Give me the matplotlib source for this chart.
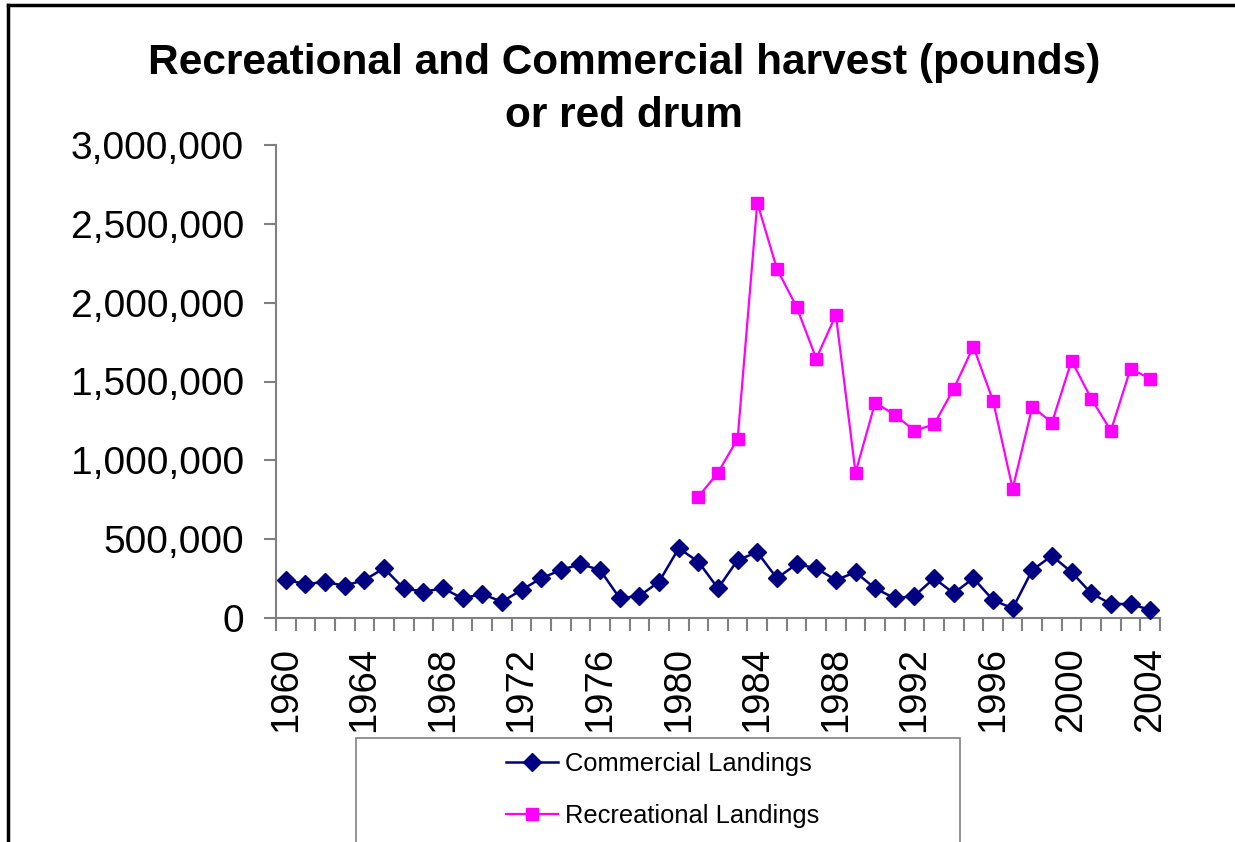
import matplotlib
matplotlib.use("Agg")
import matplotlib.pyplot as plt
from matplotlib.patches import Rectangle
from matplotlib.ticker import FuncFormatter, MultipleLocator

plt.rcParams['font.family'] = ['Liberation Sans', 'DejaVu Sans']

# data (pounds)
years = list(range(1960, 2005))
commercial = [241000, 216000, 228000, 205000, 241000, 315000, 188000, 167000, 188000, 125000,
              152000, 103000, 178000, 252000, 304000, 342000, 304000, 125000, 140000, 230000,
              442000, 357000, 188000, 368000, 417000, 252000, 342000, 315000, 241000, 290000,
              188000, 125000, 140000, 252000, 157000, 252000, 114000, 61000, 304000, 395000,
              290000, 157000, 89000, 89000, 51000]
rec_years = list(range(1981, 2005))
recreational = [769000, 922000, 1137000, 2634000, 2214000, 1974000, 1645000, 1922000, 922000,
                1366000, 1289000, 1188000, 1228000, 1454000, 1721000, 1378000, 820000, 1340000,
                1239000, 1632000, 1391000, 1188000, 1581000, 1518000]

W, H = 1235, 842
fig = plt.figure(figsize=(W / 100, H / 100), dpi=100)
ax = fig.add_axes([276 / W, 1 - 618 / H, (1160 - 276) / W, (618 - 145) / H])

xc = [y - years[0] for y in years]
xr = [y - years[0] for y in rec_years]

ax.plot(xc, commercial, color='#000080', lw=1.8, marker='D', ms=9.5,
        label='Commercial Landings', clip_on=False, zorder=3)
ax.plot(xr, recreational, color='#FF00FF', lw=1.6, marker='s', ms=9,
        label='Recreational Landings', clip_on=False, zorder=3)

ax.set_xlim(-0.5, len(years) - 0.5)
ax.set_ylim(0, 3000000)

gray = '#808080'
for s in ['top', 'right']:
    ax.spines[s].set_visible(False)
for s in ['left', 'bottom']:
    ax.spines[s].set_color(gray)
    ax.spines[s].set_linewidth(1.5)

ax.yaxis.set_major_locator(MultipleLocator(500000))
ax.yaxis.set_major_formatter(FuncFormatter(lambda v, p: f'{int(v):,}'))
ax.tick_params(axis='y', length=9, width=1.5, color=gray, pad=14, labelsize=28, direction='out')

ax.set_xticks(xc[::4])
ax.set_xticklabels([str(y) for y in years[::4]], rotation=90)
ax.set_xticks([i - 0.5 for i in range(len(years) + 1)], minor=True)
ax.tick_params(axis='x', which='major', length=0, pad=21, labelsize=27.5)
ax.tick_params(axis='x', which='minor', length=9.5, width=1.5, color=gray, direction='out')

fig.text(624 / W, 1 - 89.5 / H, 'Recreational and Commercial harvest (pounds)\nor red drum',
         ha='center', va='center', fontsize=30.5, fontweight='bold', linespacing=1.4)

# outer chart border (left and top edges visible)
fig.add_artist(plt.Line2D([8 / W, 8 / W], [0, 1 - 5 / H], transform=fig.transFigure,
                          color='black', lw=2.5))
fig.add_artist(plt.Line2D([8 / W, 1], [1 - 5 / H, 1 - 5 / H], transform=fig.transFigure,
                          color='black', lw=2.5))

# legend box
fig.add_artist(Rectangle((356 / W, -0.01), (960 - 356) / W, 1 - 738 / H + 0.01,
                         transform=fig.transFigure, fill=False, edgecolor=gray, lw=1.2))
fig.legend(loc='center', bbox_to_anchor=(663 / W, 1 - 790 / H), frameon=False,
           fontsize=18.4, handlelength=2.0, handletextpad=0.3, labelspacing=1.1)

fig.savefig('out.png', dpi=100)
